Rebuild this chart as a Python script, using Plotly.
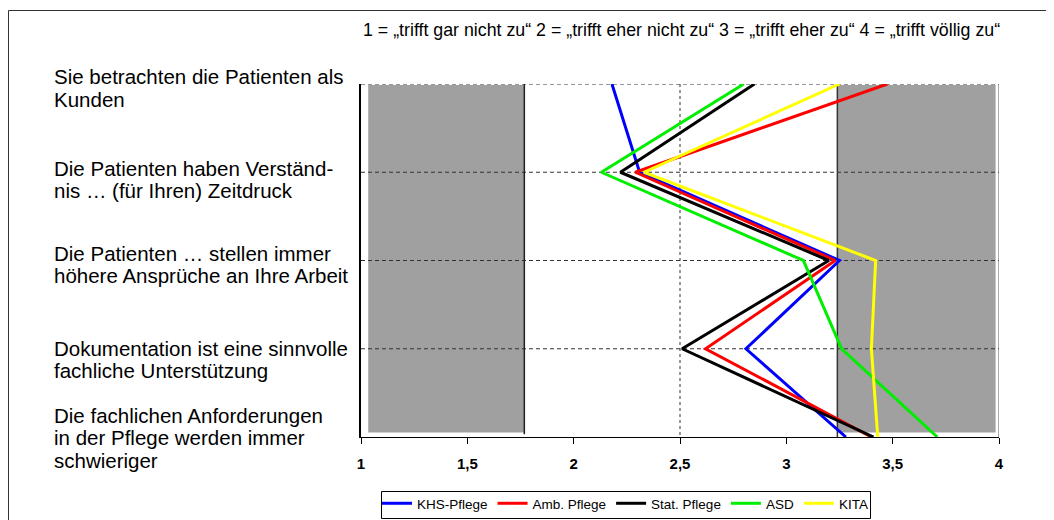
import plotly.graph_objects as go

# ---------------- data ----------------
categories = [
    ["Sie betrachten die Patienten als", "Kunden"],
    ["Die Patienten haben Verständ-", "nis … (für Ihren) Zeitdruck"],
    ["Die Patienten … stellen immer", "höhere Ansprüche an Ihre Arbeit"],
    ["Dokumentation ist eine sinnvolle", "fachliche Unterstützung"],
    ["Die fachlichen Anforderungen", "in der Pflege werden immer", "schwieriger"],
]
series_names = ["KHS-Pflege", "Amb. Pflege", "Stat. Pflege", "ASD", "KITA"]
khs_pflege = [2.18, 2.31, 3.25, 2.81, 3.28]
amb_pflege = [3.475, 2.29, 3.23, 2.62, 3.40]
stat_pflege = [2.85, 2.22, 3.20, 2.51, 3.41]
asd = [2.80, 2.13, 3.08, 3.26, 3.71]
kita = [3.25, 2.33, 3.42, 3.40, 3.43]
series_values = [khs_pflege, amb_pflege, stat_pflege, asd, kita]

tick_values = [1, 1.5, 2, 2.5, 3, 3.5, 4]
tick_labels = ["1", "1,5", "2", "2,5", "3", "3,5", "4"]

# shaded reference bands (scale ranges)
band_low = [1.034, 1.768]
band_high = [3.24, 3.984]

header = "1 = „trifft gar nicht zu“ 2 = „trifft eher nicht zu“ 3 = „trifft eher zu“ 4 = „trifft völlig zu“"

# ---------------- style ----------------
colors = ["#0000FF", "#FF0000", "#000000", "#00EE00", "#FFFF00"]
FONT = "Liberation Sans, Arial, sans-serif"
OFF = 8  # page body margin
W, H = 1054, 545
ML, MR, MT, MB = 361 - OFF, W - (999 - OFF), 84 - OFF, H - (437 - OFF)
PW, PH = W - ML - MR, H - MT - MB


def pxx(px):
    """screen x pixel -> paper x"""
    return (px - OFF - ML) / PW


def pxy(py):
    """screen y pixel -> paper y"""
    return (H - MB - (py - OFF)) / PH


n = len(categories)
y_idx = list(range(n))
unit = PH / (n - 1)

fig = go.Figure()
for name, vals, col in zip(series_names, series_values, colors):
    fig.add_trace(go.Scatter(
        x=vals, y=y_idx, mode="lines", name=name,
        line=dict(color=col, width=3), hoverinfo="x+name",
    ))

shapes = []
# gray bands
for lo, hi in (band_low, band_high):
    shapes.append(dict(type="rect", xref="x", yref="y", x0=lo, x1=hi,
                       y0=0.01, y1=n - 1 - 0.05, fillcolor="#A0A0A0",
                       line=dict(width=0), layer="below"))
# horizontal dashed grid lines at categories
for i in y_idx[:-1]:
    shapes.append(dict(type="line", xref="x", yref="y", x0=1, x1=4, y0=i, y1=i,
                       line=dict(color="#333333", width=1, dash="4px,3px"), layer="below"))
# vertical dashed line at 2.5
shapes.append(dict(type="line", xref="x", yref="y", x0=2.5, x1=2.5, y0=0, y1=n - 1,
                   line=dict(color="#333333", width=1, dash="3px,3px"), layer="below"))
# band edge lines
shapes.append(dict(type="line", xref="x", yref="y", x0=band_low[1], x1=band_low[1],
                   y0=0, y1=n - 1 - 0.03, line=dict(color="#222222", width=1.5), layer="below"))
shapes.append(dict(type="line", xref="x", yref="y", x0=band_high[0], x1=band_high[0],
                   y0=0, y1=n - 1, line=dict(color="#333333", width=1.5), layer="below"))
# right frame line
shapes.append(dict(type="line", xref="x", yref="y", x0=4, x1=4, y0=0, y1=n - 1,
                   line=dict(color="#555555", width=1), layer="below"))
# outer chart border (top and left)
shapes.append(dict(type="line", xref="paper", yref="paper", x0=pxx(8.5), x1=pxx(1070),
                   y0=pxy(10.5), y1=pxy(10.5), line=dict(color="#333333", width=1)))
shapes.append(dict(type="line", xref="paper", yref="paper", x0=pxx(8.5), x1=pxx(8.5),
                   y0=pxy(10.5), y1=pxy(545), line=dict(color="#333333", width=1)))
# legend frame
shapes.append(dict(type="rect", xref="paper", yref="paper", x0=pxx(381.5), x1=pxx(870.5),
                   y0=pxy(491.5), y1=pxy(518.5), line=dict(color="#000000", width=1),
                   fillcolor="rgba(0,0,0,0)"))

annotations = []
# category labels, one line per annotation for tight line spacing
first_line_offsets = [-0.083, -0.05, -0.085, -0.007, -0.246]
line_step = 22.3
top_px = 84.3
for i, (lines, off) in enumerate(zip(categories, first_line_offsets)):
    for k, txt in enumerate(lines):
        ypx = top_px + (i + off) * unit + k * line_step
        annotations.append(dict(
            text=txt, xref="paper", yref="paper", x=pxx(52), y=pxy(ypx),
            xanchor="left", yanchor="middle", showarrow=False, align="left",
            font=dict(family=FONT, size=20.5, color="#000000"),
        ))
annotations.append(dict(
    text=header, xref="paper", yref="paper", x=pxx(681), y=pxy(29.5),
    xanchor="center", yanchor="middle", showarrow=False,
    font=dict(family=FONT, size=17.8, color="#000000"),
))

fig.update_layout(
    width=W, height=H,
    margin=dict(l=ML, r=MR, t=MT, b=MB),
    paper_bgcolor="white", plot_bgcolor="white",
    font=dict(family=FONT, color="#000000"),
    shapes=shapes, annotations=annotations,
    showlegend=True,
    legend=dict(orientation="h", x=pxx(625), xanchor="center", y=pxy(488), yanchor="top",
                borderwidth=0, bgcolor="rgba(0,0,0,0)",
                font=dict(family=FONT, size=13.5, color="#000000"),
                itemwidth=30, tracegroupgap=0),
    xaxis=dict(range=[1, 4], tickvals=tick_values, ticktext=tick_labels,
               showgrid=False, zeroline=False, showline=True, linecolor="#000000",
               linewidth=1, ticks="outside", ticklen=6, tickcolor="#000000",
               tickfont=dict(family=FONT, size=15, color="#000000", weight="bold"),
               ticklabelstandoff=7, fixedrange=True),
    yaxis=dict(range=[n - 1, 0], showgrid=False, zeroline=False, showticklabels=False,
               showline=True, linecolor="#000000", linewidth=1.5, ticks="",
               fixedrange=True),
)

fig.write_html("out.html")
